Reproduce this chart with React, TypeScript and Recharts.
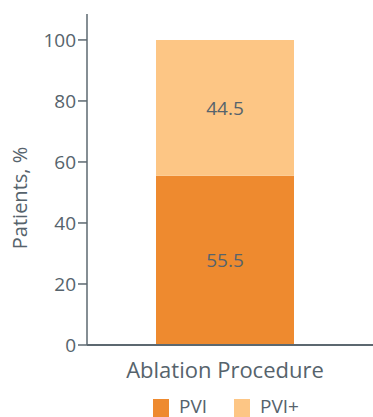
import { BarChart, Bar, XAxis, YAxis, Legend, LabelList } from 'recharts';

const categories = ['Ablation Procedure'];
const pviValues = [55.5];
const pviPlusValues = [44.5];
const yTicks = [0, 20, 40, 60, 80, 100];

const seriesInfo = [
  { key: 'pvi', name: 'PVI', color: '#EE8A2F' },
  { key: 'pviPlus', name: 'PVI+', color: '#FDC685' },
];

const data = categories.map((c, i) => ({
  category: c,
  pvi: pviValues[i],
  pviPlus: pviPlusValues[i],
}));

const textColor = '#56636c';
const axisColor = '#5c6870';
const font = '"Open Sans", sans-serif';

function LegendContent() {
  return (
    <div style={{ display: 'flex', paddingLeft: 153, fontFamily: font }}>
      {seriesInfo.map((s) => (
        <div key={s.key} style={{ display: 'flex', alignItems: 'flex-start', width: 81 }}>
          <span style={{ width: 16, height: 18, background: s.color, display: 'inline-block', marginRight: 10 }} />
          <span style={{ color: textColor, fontSize: 19, lineHeight: '19px', marginTop: -2 }}>{s.name}</span>
        </div>
      ))}
    </div>
  );
}

function YLabel() {
  return (
    <text
      x={0}
      y={0}
      transform="translate(27, 198) rotate(-90)"
      textAnchor="middle"
      fill={textColor}
      fontSize={20}
      fontFamily={font}
    >
      Patients, %
    </text>
  );
}

export default function App() {
  return (
    <div style={{ position: 'absolute', left: 0, top: 0, background: '#fff', overflow: 'hidden', width: 373, height: 417 }}>
      <BarChart
        width={373}
        height={417}
        data={data}
        margin={{ top: 14, right: 0, bottom: 0, left: 0 }}
      >
        <XAxis
          dataKey="category"
          stroke={axisColor}
          strokeWidth={2}
          tickLine={false}
          tickSize={0}
          tickMargin={17}
          height={45}
          padding={{ left: 0, right: 10 }}
          tick={{ fill: textColor, fontSize: 22, fontFamily: font }}
        />
        <YAxis
          width={87}
          domain={[0, 108.5]}
          ticks={yTicks}
          allowDataOverflow
          stroke={axisColor}
          strokeWidth={1.5}
          tickSize={9}
          tick={{ fill: textColor, fontSize: 19, fontFamily: font }}
          label={<YLabel />}
        />
        <Legend
          verticalAlign="bottom"
          height={27}
          wrapperStyle={{ position: 'absolute', left: 0, top: 399, width: 373 }}
          content={<LegendContent />}
        />
        {seriesInfo.map((s) => (
          <Bar
            key={s.key}
            dataKey={s.key}
            name={s.name}
            stackId="a"
            fill={s.color}
            barSize={138}
            isAnimationActive={false}
          >
            <LabelList
              dataKey={s.key}
              position="center"
              style={{ fill: textColor, fontSize: 19, fontFamily: font }}
            />
          </Bar>
        ))}
      </BarChart>
    </div>
  );
}
